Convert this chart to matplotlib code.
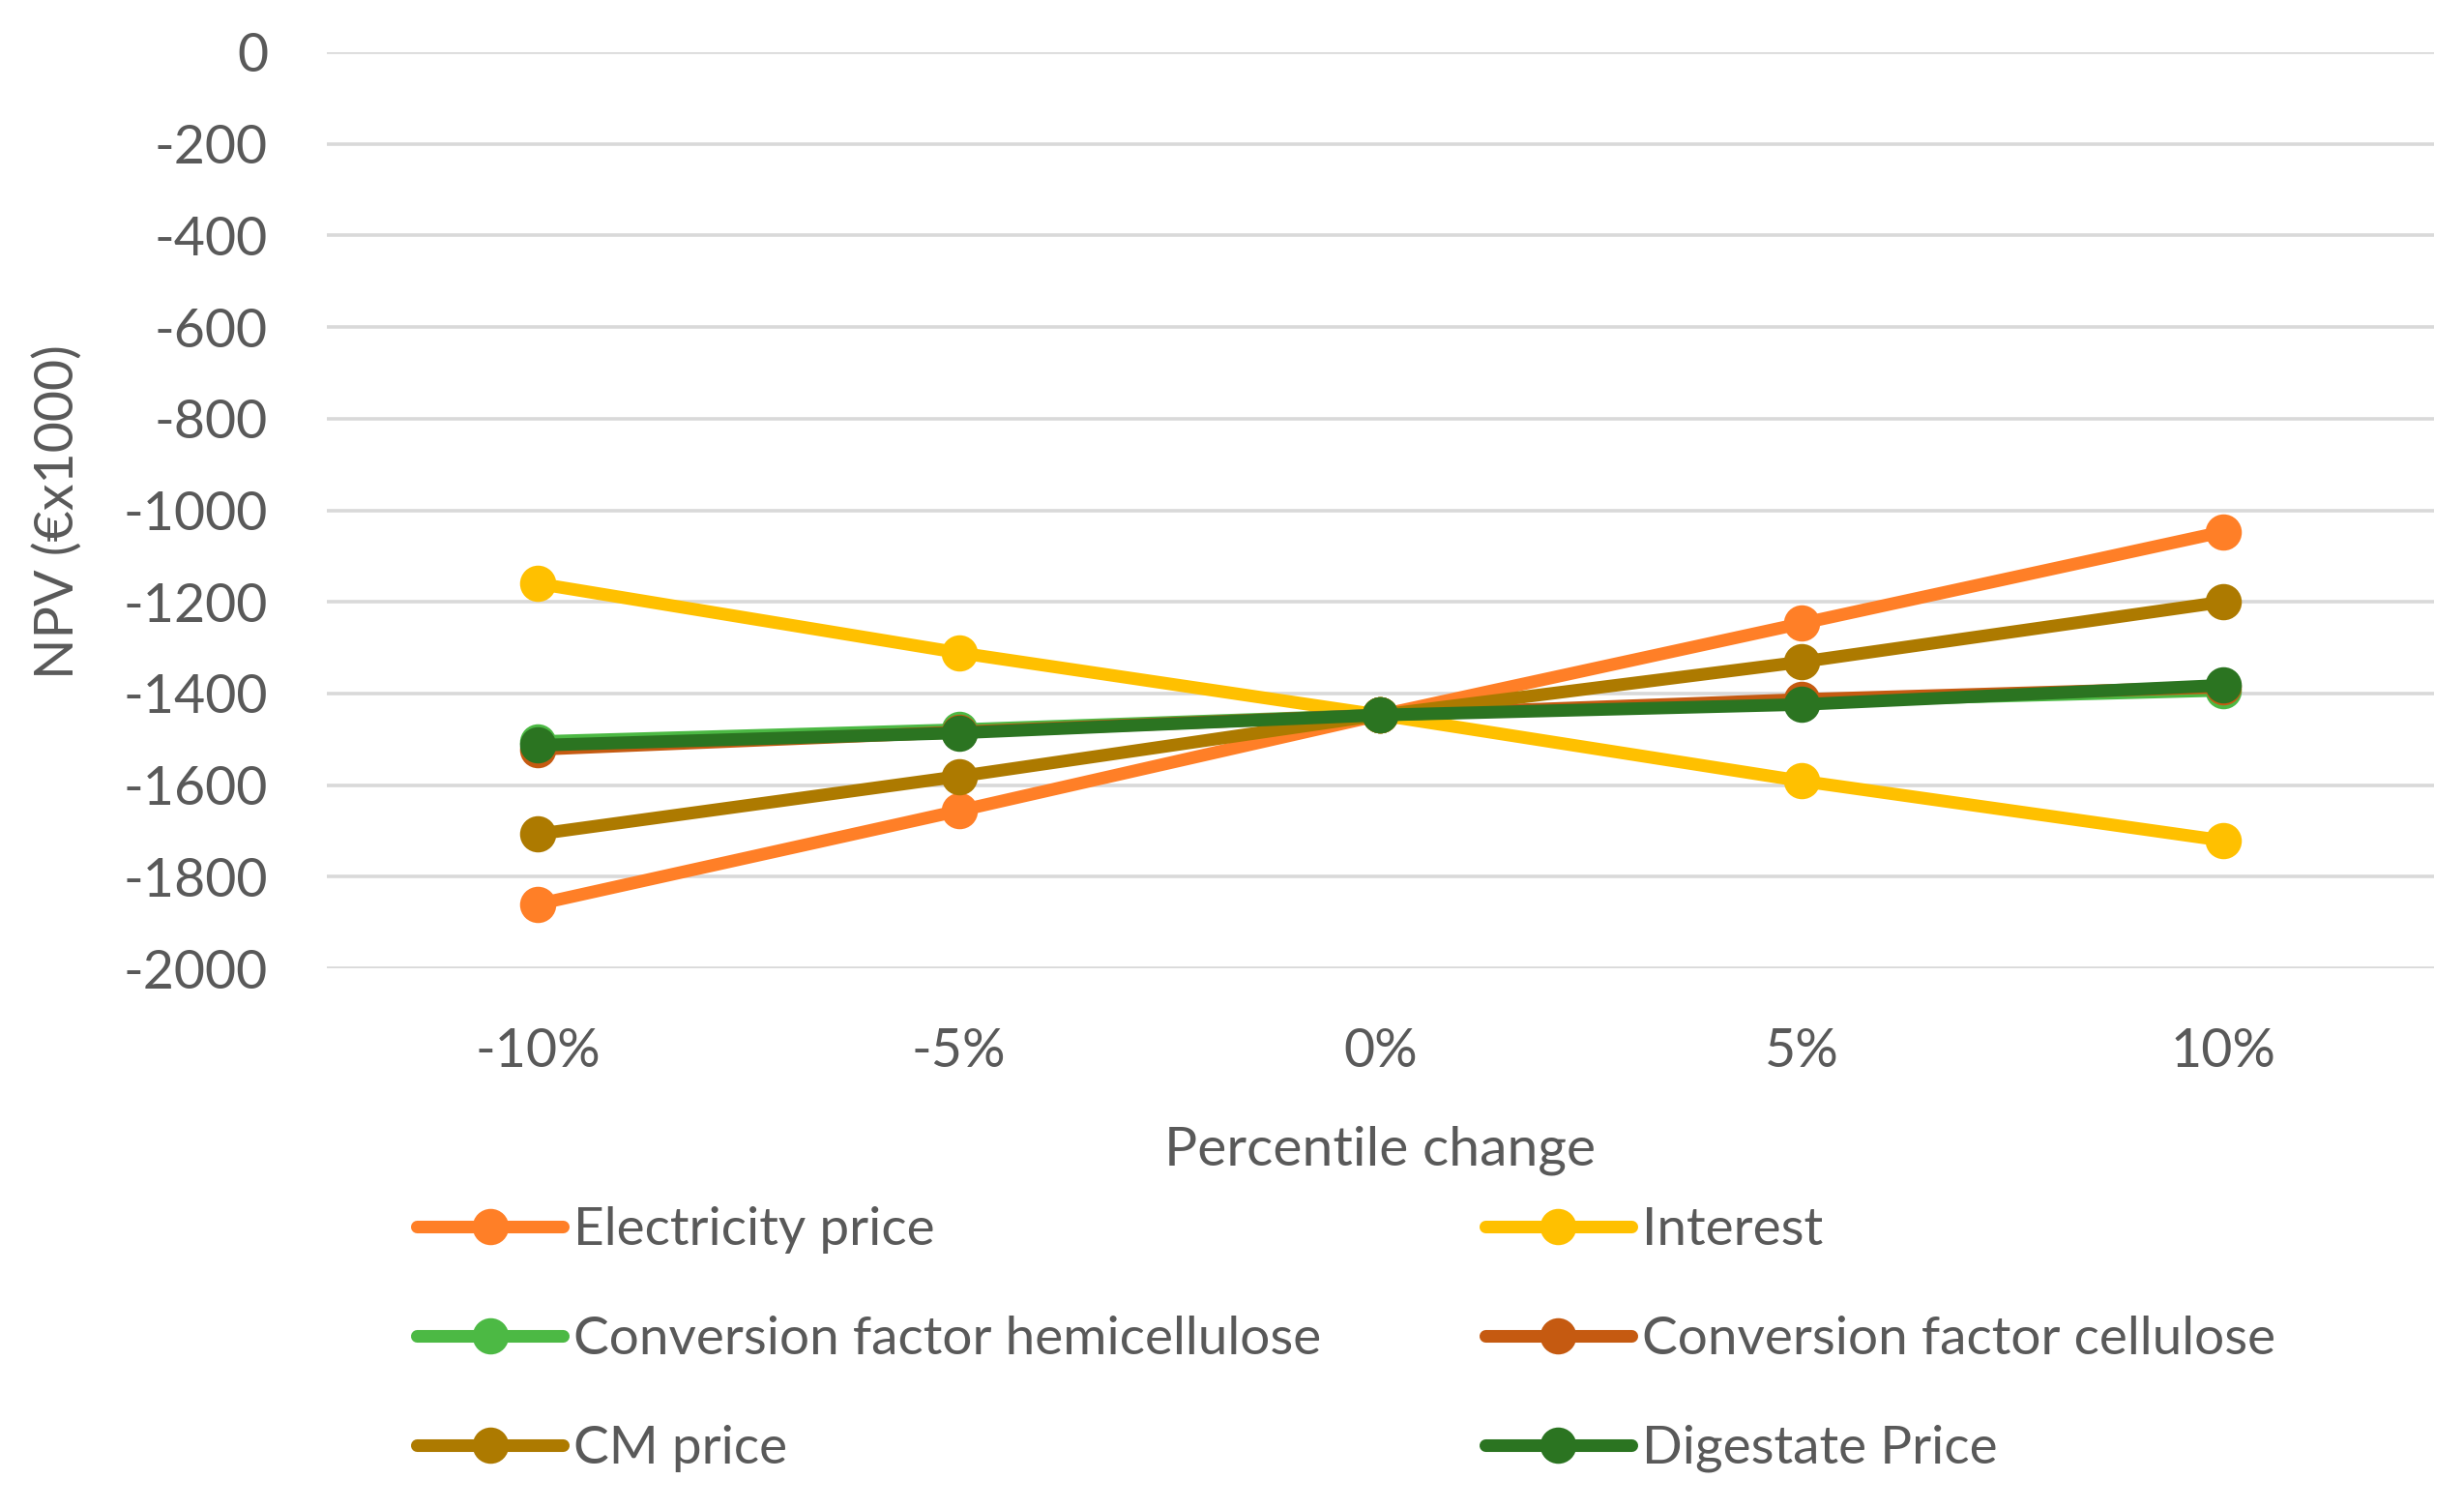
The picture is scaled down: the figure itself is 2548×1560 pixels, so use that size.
import matplotlib
matplotlib.use('Agg')
from matplotlib import pyplot as plt

plt.rcParams['font.family'] = ['Lato', 'DejaVu Sans']
plt.rcParams['axes.unicode_minus'] = False

changes = ['-10%', '-5%', '0%', '5%', '10%']

electricity_price = [-1860, -1656, -1447, -1247, -1047]
interest = [-1160, -1311, -1447, -1591, -1721]
conv_hemicellulose = [-1505, -1479, -1447, -1417, -1393]
conv_cellulose = [-1522, -1484, -1447, -1413, -1386]
cm_price = [-1707, -1581, -1447, -1331, -1200]
digestate_price = [-1513, -1486, -1447, -1424, -1382]

series = [
    ('Electricity price', electricity_price, '#FF7F27'),
    ('Interest', interest, '#FFC000'),
    ('Conversion factor hemicellulose', conv_hemicellulose, '#4CB944'),
    ('Conversion factor cellulose', conv_cellulose, '#C55A11'),
    ('CM price', cm_price, '#AD7A00'),
    ('Digestate Price', digestate_price, '#2B7421'),
]

TEXT = '#595959'

fig = plt.figure(figsize=(12.74, 7.8), dpi=200)
ax = fig.add_axes([0.1327, 0.3583, 0.855, 0.6071])

x = list(range(len(changes)))
handles = {}
for name, values, color in series:
    line, = ax.plot(x, values, color=color, lw=4.7, marker='o', ms=12.5,
                    solid_capstyle='round', label=name)
    handles[name] = line

ax.set_xlim(-0.5, len(changes) - 0.5)
ax.set_ylim(-2000, 0)
ax.set_yticks(range(-2000, 1, 200))
ax.set_xticks(x)
ax.set_xticklabels(changes)
ax.grid(axis='y', color='#D9D9D9', lw=1.3)
ax.set_axisbelow(True)
for s in ax.spines.values():
    s.set_visible(False)
ax.tick_params(axis='both', length=0, labelsize=20, colors=TEXT)
ax.tick_params(axis='x', pad=22)
ax.tick_params(axis='y', pad=22)

ax.set_xlabel('Percentile change', fontsize=20.5, color=TEXT, labelpad=18)
fig.text(0.0235, 0.661, 'NPV (€x1000)', rotation=90, fontsize=20,
         color=TEXT, ha='center', va='center')

order = ['Electricity price', 'Conversion factor hemicellulose', 'CM price',
         'Interest', 'Conversion factor cellulose', 'Digestate Price']
leg = fig.legend([handles[n] for n in order], order, ncol=2,
                 loc='upper left', bbox_to_anchor=(0.1605, 0.2145),
                 frameon=False, fontsize=19.8, handlelength=2.75,
                 handletextpad=0.2, columnspacing=3.08, labelspacing=1.16,
                 borderaxespad=0)
for t in leg.get_texts():
    t.set_color(TEXT)

fig.savefig('out.png')
